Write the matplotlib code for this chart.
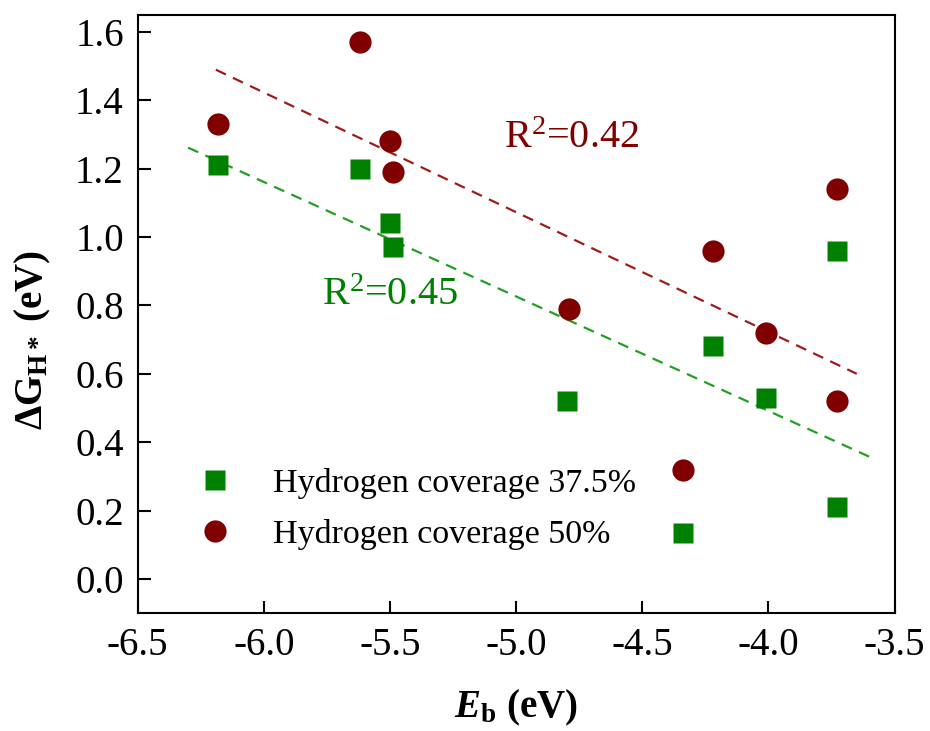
import matplotlib
matplotlib.use("Agg")
import matplotlib.pyplot as plt

plt.rcParams['font.family'] = ['Liberation Serif', 'DejaVu Serif']
plt.rcParams['mathtext.fontset'] = 'custom'
plt.rcParams['mathtext.rm'] = 'Liberation Serif'
plt.rcParams['mathtext.it'] = 'Liberation Serif:italic'
plt.rcParams['mathtext.bf'] = 'Liberation Serif:bold'
plt.rcParams['mathtext.bfit'] = 'Liberation Serif:italic:bold'

# Data
x_375 = [-6.18, -5.62, -5.50, -5.49, -4.80, -4.22, -4.01, -3.73, -3.73, -4.34]
y_375 = [1.21, 1.20, 1.04, 0.97, 0.52, 0.68, 0.53, 0.96, 0.21, 0.135]
x_50 = [-6.18, -5.62, -5.50, -5.49, -4.79, -4.22, -4.01, -3.73, -3.73, -4.34]
y_50 = [1.33, 1.57, 1.28, 1.19, 0.79, 0.96, 0.72, 1.14, 0.52, 0.32]

fit_x_375 = [-6.30, -3.59]
fit_y_375 = [1.262, 0.354]
fit_x_50 = [-6.19, -3.65]
fit_y_50 = [1.49, 0.60]

xticks = [-6.5, -6.0, -5.5, -5.0, -4.5, -4.0, -3.5]
yticks = [0.0, 0.2, 0.4, 0.6, 0.8, 1.0, 1.2, 1.4, 1.6]

green = '#008000'
red = '#800000'

fig = plt.figure(figsize=(9.3, 7.31), dpi=100)
ax = fig.add_axes([0.148, 0.1614, 0.814, 0.818])

ax.plot(fit_x_375, fit_y_375, ls=(0, (5, 3.5)), color='#22a022', lw=1.6)
ax.plot(fit_x_50, fit_y_50, ls=(0, (5, 3.5)), color='#a01c1c', lw=1.6)

ax.plot(x_375, y_375, 's', color=green, ms=14.5, mec='none', label='Hydrogen coverage 37.5%')
ax.plot(x_50, y_50, 'o', color=red, ms=16, mec='none', label='Hydrogen coverage 50%')

ax.text(-4.78, 1.29, r'R$^2$=0.42', color=red, fontsize=29, ha='center', va='center')
ax.text(-5.50, 0.83, r'R$^2$=0.45', color=green, fontsize=29, ha='center', va='center')

ax.set_xlim(-6.5, -3.5)
ax.set_ylim(-0.1, 1.65)
ax.set_xticks(xticks)
ax.set_yticks(yticks)
ax.set_xticklabels(['%.1f' % v for v in xticks])
ax.set_yticklabels(['%.1f' % v for v in yticks])
ax.tick_params(direction='in', length=9, width=1.5, labelsize=28, pad=10)
for s in ax.spines.values():
    s.set_linewidth(1.5)

ax.set_xlabel(r'$\mathbfit{E}_\mathbf{b}$ (eV)', fontsize=28, fontweight='bold')
ax.set_ylabel(r'ΔG$_\mathbf{H*}$ (eV)', fontsize=28, fontweight='bold')
ax.xaxis.set_label_coords(0.5, -0.125)
ax.yaxis.set_label_coords(-0.112, 0.456)

ax.legend(loc='lower left', bbox_to_anchor=(0.057, 0.105), frameon=False,
          fontsize=24.5, handletextpad=0.7, labelspacing=0.6, numpoints=1,
          borderpad=0, borderaxespad=0)

fig.savefig('out.png', dpi=100)
